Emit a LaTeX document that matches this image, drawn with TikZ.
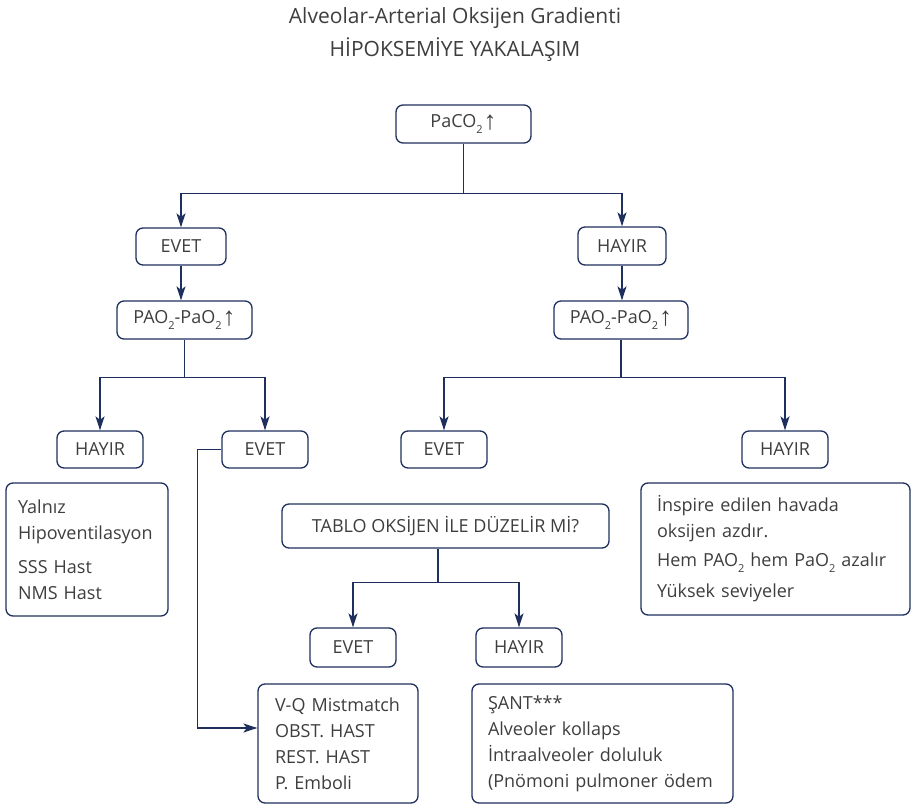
\documentclass[tikz,border=0pt]{standalone}
\usepackage{fontspec}
\setmainfont{Open Sans}
\newfontfamily\arrowfont{Liberation Sans}
\usetikzlibrary{arrows.meta}
\definecolor{navy}{RGB}{31,48,94}
\definecolor{ink}{RGB}{62,62,62}
% lowered small "2" for gas subscripts
\newcommand\subtwo{\raisebox{-0.32em}{\fontsize{11}{11}\selectfont 2}}
% tall thin upward arrow
\newcommand\uparr{\kern1pt\raisebox{-1.5pt}{\fontsize{26}{26}\arrowfont ↑}}
\begin{document}
\begin{tikzpicture}[x=1pt,y=-1pt,
  box/.style={draw=navy, line width=1.3pt, rounded corners=7pt, text=ink,
    font=\fontsize{18}{26}\selectfont, inner sep=0pt},
  listbox/.style={box, align=left},
  lin/.style={draw=navy, line width=1.5pt},
  arr/.style={lin, -{Stealth[length=14pt,width=9pt,inset=3.5pt]}}]
\useasboundingbox (0,0) rectangle (911,805);

% heading
\node[text=ink, font=\fontsize{21}{33}\selectfont, align=center] (title) at (455,34.5)
  {Alveolar-Arterial Oksijen Gradienti\\HİPOKSEMİYE YAKALAŞIM};

% first level
\node[box, minimum width=135pt, minimum height=38pt] (paco) at (463.5,124) {PaCO\subtwo\uparr};
\node[box, minimum width=90pt, minimum height=37pt] (evet1) at (181,246.5) {EVET};
\node[box, minimum width=88pt, minimum height=38pt] (hayir1) at (622,246) {HAYIR};
\node[box, minimum width=135pt, minimum height=38pt] (paoL) at (184.5,320) {PAO\subtwo-PaO\subtwo\uparr};
\node[box, minimum width=134pt, minimum height=38pt] (paoR) at (621,320) {PAO\subtwo-PaO\subtwo\uparr};

% second level
\node[box, minimum width=86pt, minimum height=37pt] (hayirL) at (100,449.5) {HAYIR};
\node[box, minimum width=86pt, minimum height=37pt] (evetL) at (265,449.5) {EVET};
\node[box, minimum width=86pt, minimum height=37pt] (evetR) at (444,449.5) {EVET};
\node[box, minimum width=86pt, minimum height=37pt] (hayirR) at (785,449.5) {HAYIR};

% explanation boxes
\node[listbox, minimum width=162pt, minimum height=133pt, text width=138pt] (yalniz) at (87,549.5)
  {Yalnız\\Hipoventilasyon\\[8pt]SSS~Hast\\NMS~Hast};
\node[listbox, minimum width=269pt, minimum height=132pt, text width=237pt] (inspire) at (775.5,549)
  {İnspire~edilen~havada\\oksijen~azdır.\\[3pt]Hem~PAO\subtwo{}~hem~PaO\subtwo{}~azalır\\[5pt]Yüksek~seviyeler};

\node[box, minimum width=327pt, minimum height=44pt] (tablo) at (445.5,526) {TABLO OKSİJEN İLE DÜZELİR Mİ?};
\node[box, minimum width=86pt, minimum height=39pt] (evetT) at (353,647.5) {EVET};
\node[box, minimum width=86pt, minimum height=39pt] (hayirT) at (519,647.5) {HAYIR};

\node[listbox, minimum width=160pt, minimum height=119pt, text width=126pt] (vq) at (338,743.5)
  {V-Q~Mistmatch\\OBST.~HAST\\REST.~HAST\\P.~Emboli};
\node[listbox, minimum width=261pt, minimum height=119pt, text width=229pt] (sant) at (602.5,743.5)
  {ŞANT***\\Alveoler~kollaps\\İntraalveoler~doluluk\\(Pnömoni~pulmoner~ödem};

% connectors
\path (paco.south) ++(0,50) coordinate (jA);
\draw[lin] (paco.south) -- (jA);
\draw[arr] (jA) -| (evet1.north);
\draw[arr] (jA) -| (hayir1.north);
\draw[arr] (evet1.south) -- (evet1.south |- paoL.north);
\draw[arr] (hayir1.south) -- (hayir1.south |- paoR.north);

\path (paoL.south) ++(0,38) coordinate (jB);
\draw[lin] (paoL.south) -- (jB);
\draw[arr] (jB) -| (hayirL.north);
\draw[arr] (jB) -| (evetL.north);

\path (paoR.south) ++(0,38) coordinate (jC);
\draw[lin] (paoR.south) -- (jC);
\draw[arr] (jC) -| (evetR.north);
\draw[arr] (jC) -| (hayirR.north);

\draw[arr] (evetL.west) -- ++(-24,0) |- ([yshift=15.5pt]vq.west);

\path ([xshift=-7.5pt]tablo.south) coordinate (tB) ++(0,34) coordinate (jD);
\draw[lin] (tB) -- (jD);
\draw[arr] (jD) -| (evetT.north);
\draw[arr] (jD) -| (hayirT.north);
\end{tikzpicture}
\end{document}
